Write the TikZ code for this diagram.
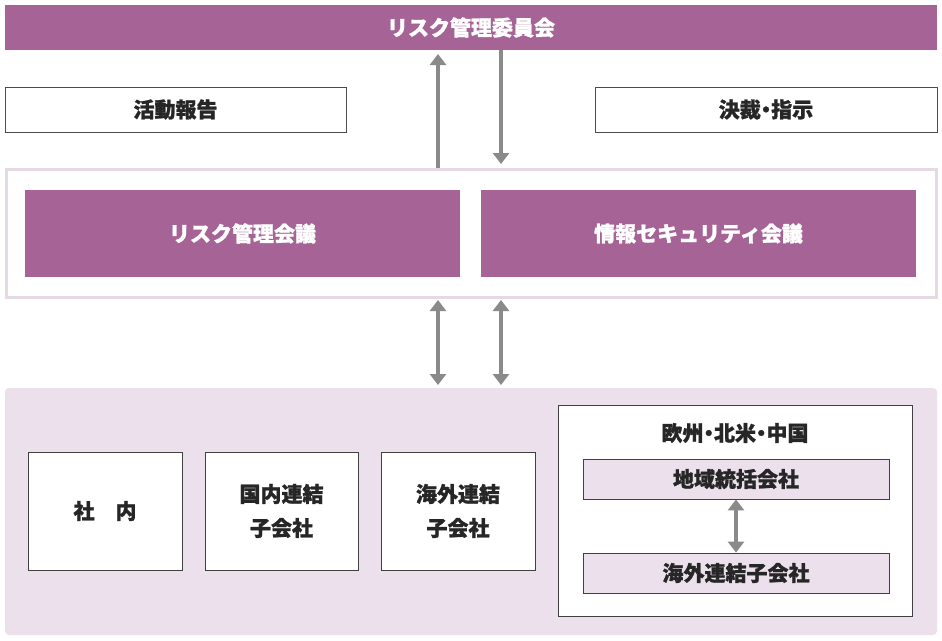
\documentclass[tikz,border=0pt]{standalone}
\usepackage{fontspec}
\setmainfont{Noto Sans CJK JP}[FakeBold=1.2]
\usetikzlibrary{arrows.meta}
\definecolor{pur}{HTML}{A66396}
\definecolor{lpur}{HTML}{EBE0EB}
\definecolor{fr}{HTML}{E6D9E6}
\definecolor{arr}{HTML}{8A8A8A}
\definecolor{bd}{HTML}{404040}
\newcommand{\nd}{\hspace{-0.25em}・\hspace{-0.25em}}
\begin{document}
\begin{tikzpicture}[x=1pt,y=-1pt,
  txt/.style={font=\bfseries\fontsize{21}{24}\selectfont,text=black!85},
  pbox/.style={fill=pur,draw=none,text=white,font=\bfseries\fontsize{21}{24}\selectfont},
  wbox/.style={fill=white,draw=bd,line width=0.8pt},
  sbox/.style={fill=lpur,draw=bd,line width=0.8pt},
  ar/.style={draw=arr,line width=4.5pt,-{Triangle[length=11pt,width=16pt]}},
  dar/.style={draw=arr,line width=4.5pt,{Triangle[length=11pt,width=16pt]}-{Triangle[length=11pt,width=16pt]}}]
\useasboundingbox (0,0) rectangle (942,640);
\fill[white] (0,0) rectangle (942,640);
% top
\node[pbox,minimum width=932pt,minimum height=45pt,inner sep=0] (top) at (471,27.5) {リスク管理委員会};
\node[wbox,txt,draw=black!70,minimum width=341pt,minimum height=45pt,inner sep=0] (rep) at (175.5,109.5) {活動報告};
\node[wbox,txt,draw=black!70,minimum width=342pt,minimum height=45pt,inner sep=0] (dec) at (766,109.5) {決裁\nd 指示};
% frame
\node[draw=fr,line width=3pt,minimum width=930pt,minimum height=128pt,inner sep=0] (frame) at (471,233) {};
\node[pbox,minimum width=435pt,minimum height=87pt,inner sep=0] (rm) at (242.5,233.5) {リスク管理会議};
\node[pbox,minimum width=435pt,minimum height=87pt,inner sep=0] (is) at (698.5,233.5) {情報セキュリティ会議};
\coordinate (u1) at (438,168); \coordinate (u2) at (438,54);
\coordinate (d1) at (501,50); \coordinate (d2) at (501,164);
\draw[ar] (u1) -- (u2);
\draw[ar] (d1) -- (d2);
% bottom
\node[fill=lpur,rounded corners=4pt,minimum width=932pt,minimum height=247pt,inner sep=0] (panel) at (471,511.5) {};
\coordinate (a1) at (438,300); \coordinate (a2) at (438,385);
\coordinate (b1) at (501,300); \coordinate (b2) at (501,385);
\draw[dar] (a1) -- (a2);
\draw[dar] (b1) -- (b2);
\node[wbox,txt,minimum width=154pt,minimum height=118pt,inner sep=0] (sha) at (105,511) {社\hspace{1em}内};
\node[wbox,txt,minimum width=153pt,minimum height=118pt,inner sep=0,align=center] (dom) at (281.5,511) {国内連結\\[10pt]子会社};
\node[wbox,txt,minimum width=154pt,minimum height=118pt,inner sep=0,align=center] (ovs) at (458,511) {海外連結\\[10pt]子会社};
\node[wbox,minimum width=354pt,minimum height=211pt,inner sep=0] (reg) at (735,510.5) {};
\node[txt] (regt) at (735,433) {欧州\nd 北米\nd 中国};
\node[sbox,txt,minimum width=306pt,minimum height=40pt,inner sep=0] (rh) at (736,479) {地域統括会社};
\node[sbox,txt,minimum width=306pt,minimum height=40pt,inner sep=0] (os) at (736,573) {海外連結子会社};
\draw[dar] (rh) -- (os);
\end{tikzpicture}
\end{document}
